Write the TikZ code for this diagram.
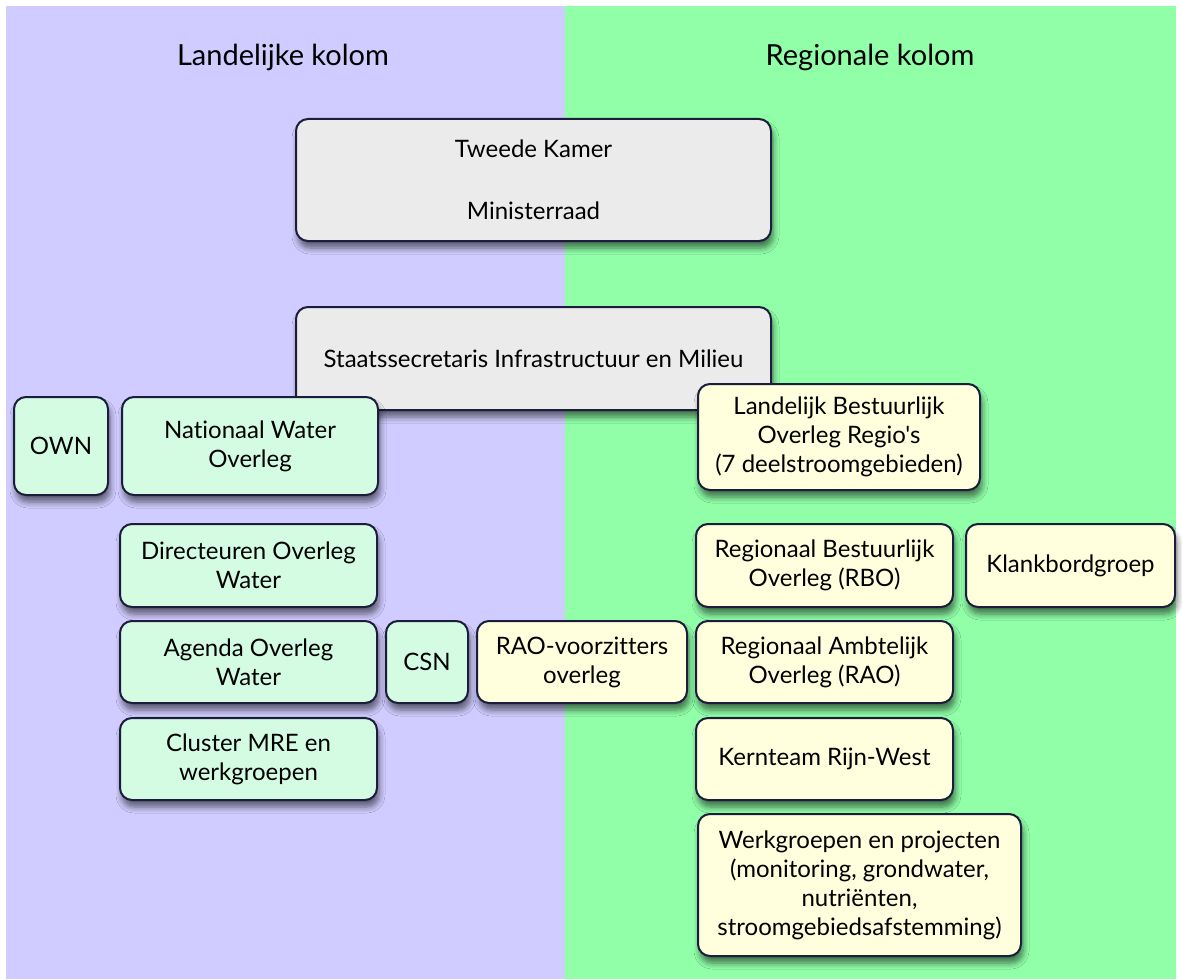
\documentclass[tikz,border=0pt]{standalone}
\usepackage{fontspec}
\setmainfont{Lato}[Ligatures={TeXOff,CommonOff}]
\usepackage{tikz}
\usetikzlibrary{positioning}
\usetikzlibrary{shadows.blur}
\pgfdeclarelayer{background}
\pgfdeclarelayer{foreground}
\pgfsetlayers{background,main,foreground}

\definecolor{kolomlandelijk}{HTML}{D0CCFF}
\definecolor{kolomregionaal}{HTML}{90FFA8}
\definecolor{randkleur}{HTML}{1C1C3C}
\definecolor{vakgrijs}{HTML}{EBEBEB}
\definecolor{vakmint}{HTML}{D4FCE2}
\definecolor{vakgeel}{HTML}{FFFFDE}

\tikzset{
  vak/.style={draw=randkleur, line width=1pt, rounded corners=6pt, align=center,
    inner sep=2pt, outer sep=0pt, font=\fontsize{12}{14.5}\selectfont,
    blur shadow={shadow xshift=1pt, shadow yshift=-3.5pt, shadow blur steps=6,
      shadow blur radius=3pt, shadow opacity=55}},
  grijsvak/.style={vak, fill=vakgrijs},
  mintvak/.style={vak, fill=vakmint},
  geelvak/.style={vak, fill=vakgeel},
  kolomkop/.style={font=\fontsize{14.5}{17}\selectfont}
}

\begin{document}
\begin{tikzpicture}[x=0.5pt, y=-0.5pt]
  %Achtergrond
  \useasboundingbox (0,0) rectangle (1182,979);
  \fill[kolomlandelijk] (6,6) rectangle (565,979);
  \fill[kolomregionaal] (565,6) rectangle (1176,979);

  %Koppen
  \node[kolomkop] (kopland) at (283,57) {Landelijke kolom};
  \node[kolomkop] (kopregio) at (870,57) {Regionale kolom};

  %Top
  \node[grijsvak, minimum width=237.5pt, minimum height=61pt] (kamer) at (533.5,180)
    {Tweede Kamer\\[16.5pt]Ministerraad};
  \node[grijsvak, minimum width=237.5pt, minimum height=51.5pt] (staats) at (533.5,358.5)
    {Staatssecretaris Infrastructuur en Milieu};

  %Landelijke kolom
  \node[mintvak, minimum width=47pt, minimum height=49pt] (own) at (61,446) {OWN};
  \node[mintvak, minimum width=128pt, minimum height=49pt] (nwo) at (250,446)
    {Nationaal Water\\Overleg};
  \node[mintvak, minimum width=128.5pt, minimum height=41.5pt] (dow) at (248.5,565.5)
    {Directeuren Overleg\\Water};
  \node[mintvak, minimum width=128.5pt, minimum height=41pt] (aow) at (248.5,662)
    {Agenda Overleg\\Water};
  \node[mintvak, minimum width=41pt, minimum height=41pt] (csn) at (427,662) {CSN};
  \node[mintvak, minimum width=128.5pt, minimum height=41pt] (cluster) at (248.5,759)
    {Cluster MRE en\\werkgroepen};

  %Regionale kolom
  \node[geelvak, minimum width=105pt, minimum height=41pt] (raovz) at (582,662)
    {RAO-voorzitters\\overleg};
  \node[geelvak, minimum width=141pt, minimum height=53pt] (lbo) at (839,437)
    {Landelijk Bestuurlijk\\Overleg Regio's\\(7 deelstroomgebieden)};
  \node[geelvak, minimum width=128.5pt, minimum height=41.5pt] (rbo) at (824.5,565.5)
    {Regionaal Bestuurlijk\\Overleg (RBO)};
  \node[geelvak, minimum width=104.5pt, minimum height=41.5pt] (klank) at (1070.5,565.5)
    {Klankbordgroep};
  \node[geelvak, minimum width=128.5pt, minimum height=41pt] (rao) at (824.5,662)
    {Regionaal Ambtelijk\\Overleg (RAO)};
  \node[geelvak, minimum width=128.5pt, minimum height=41pt] (kern) at (824.5,759)
    {Kernteam Rijn-West};
  \node[geelvak, minimum width=161.5pt, minimum height=71pt] (werk) at (859.5,885)
    {Werkgroepen en projecten\\(monitoring, grondwater,\\nutriënten,\\stroomgebiedsafstemming)};
\end{tikzpicture}
\end{document}
